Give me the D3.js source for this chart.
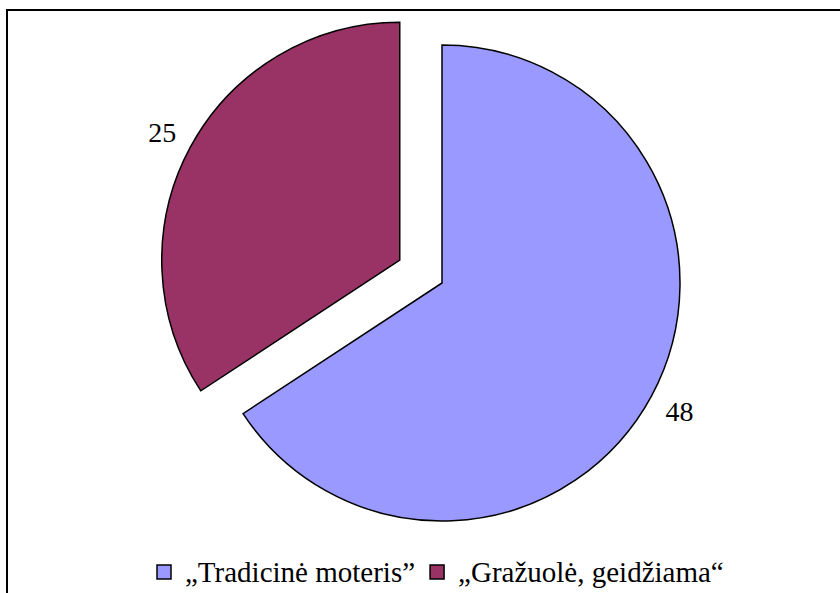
<!DOCTYPE html>
<html lang="lt">
<head>
<meta charset="UTF-8">
<title>Pie</title>
<script src="https://cdn.jsdelivr.net/npm/d3@7"></script>
<style>
  body { margin: 0; background: #fff; }
</style>
</head>
<body>
<script>
// data
var categories = ["\u201ETradicin\u0117 moteris\u201D", "\u201EGra\u017Euol\u0117, geid\u017Eiama\u201C"];
var values = [48, 25];
var colors = ["#9999ff", "#993366"];
var exploded = [0, 48];

var width = 840, height = 593;
var cx = 442, cy = 283, r = 238;
var font = "Liberation Serif";

var svg = d3.select("body").append("svg")
    .attr("width", width).attr("height", height);

// frame (only top and left visible)
svg.append("path")
    .attr("d", "M7,600 L7,10 L850,10")
    .attr("fill", "none").attr("stroke", "#000").attr("stroke-width", 2);

var pie = d3.pie().sort(null).value(function(d){ return d; });
var arcs = pie(values);
var arc = d3.arc().innerRadius(0).outerRadius(r);
var labelArc = d3.arc().innerRadius(270).outerRadius(270);

function shift(d, i) {
    var a = (d.startAngle + d.endAngle) / 2;
    var off = exploded[i];
    return "translate(" + (cx + Math.sin(a) * off) + "," + (cy - Math.cos(a) * off) + ")";
}

var g = svg.selectAll("g.slice").data(arcs).enter().append("g")
    .attr("class", "slice")
    .attr("transform", shift);

g.append("path")
    .attr("d", arc)
    .attr("fill", function(d, i){ return colors[i]; })
    .attr("stroke", "#000").attr("stroke-width", 1.5);

g.append("text")
    .attr("transform", function(d){ return "translate(" + labelArc.centroid(d) + ")"; })
    .attr("text-anchor", "middle")
    .attr("dy", "0.35em")
    .style("font-family", font)
    .style("font-size", "28px")
    .text(function(d){ return d.value; });

// legend
var legend = svg.append("g");
var x = 157;
categories.forEach(function(c, i) {
    legend.append("rect")
        .attr("x", x).attr("y", 565)
        .attr("width", 14).attr("height", 14)
        .attr("fill", colors[i]).attr("stroke", "#000").attr("stroke-width", 1.5);
    var t = legend.append("text")
        .attr("x", x + 28).attr("y", 582)
        .style("font-family", font)
        .style("font-size", "29px")
        .text(c);
    x += 28 + t.node().getComputedTextLength() + 15;
});
</script>
</body>
</html>
